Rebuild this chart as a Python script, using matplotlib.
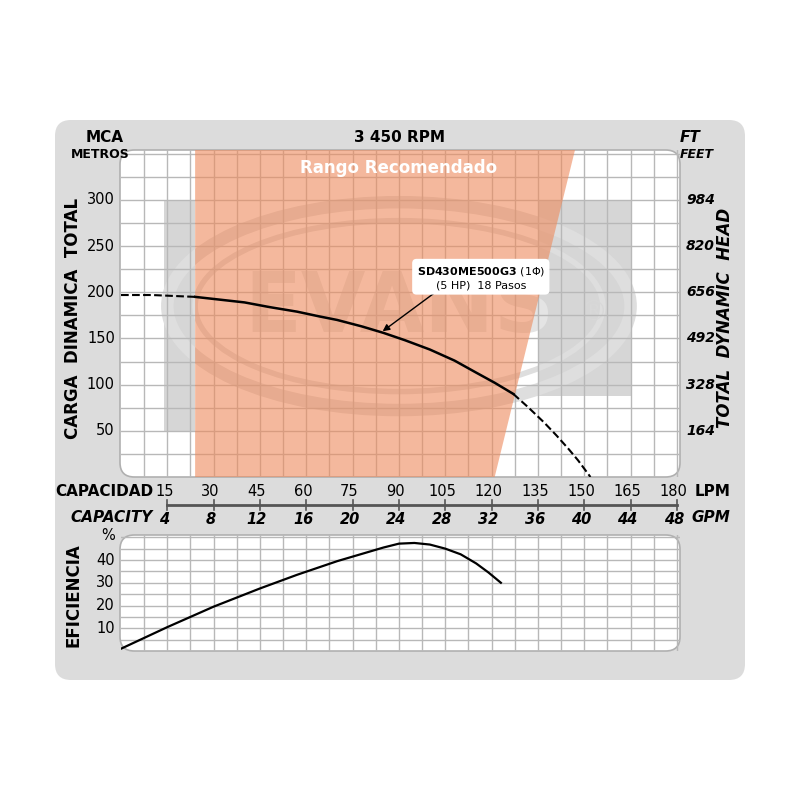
import numpy as np
import matplotlib.pyplot as plt
from matplotlib.patches import FancyBboxPatch, Ellipse, Polygon, Rectangle

# ---- data ----
lpm_ticks = [15, 30, 45, 60, 75, 90, 105, 120, 135, 150, 165, 180]
gpm_labels = ["4", "8", "12", "16", "20", "24", "28", "32", "36", "40", "44", "48"]
head_ticks = [50, 100, 150, 200, 250, 300]
ft_labels = ["164", "328", "492", "656", "820", "984"]
eff_ticks = [10, 20, 30, 40]

curve_dash_left_q = [0, 10, 24]
curve_dash_left_h = [197, 197, 195]
curve_q = [24, 32, 40, 48, 57, 64, 70, 78, 85, 92, 100, 108, 115, 121, 127]
curve_h = [195, 192, 189, 184, 179, 174, 170, 163, 156, 148, 138, 126, 113, 102, 90]
curve_dash_right_q = [127, 132, 137, 141, 145, 148, 150, 152]
curve_dash_right_h = [90, 75, 59, 45, 30, 18, 9, 0]

eff_q = [0, 15, 30, 45, 57, 70, 80, 85, 90, 95, 100, 105, 110, 115, 119, 123]
eff_v = [1, 10.5, 19.5, 27.5, 33.5, 39.5, 43.5, 45.5, 47.2, 47.5, 46.8, 45, 42.5, 38.5, 34.5, 30]

rango_x = [24, 147, 121, 24]   # recommended range polygon (LPM)
rango_y = [354, 354, 0, 0]

W = 800
fig = plt.figure(figsize=(8, 8), dpi=100)
fig.patch.set_facecolor("white")

def fx(px): return px / W
def fy(py): return 1 - py / W

# outer grey panel
fig.patches.append(FancyBboxPatch((fx(55), fy(680)), fx(690), 560 / W,
                                  boxstyle="round,pad=0,rounding_size=0.02",
                                  transform=fig.transFigure, fc="#dcdcdc", ec="none", zorder=-3))
# plot backgrounds
for (x0, y0, x1, y1) in [(120, 150, 680, 477), (120, 535, 680, 651)]:
    fig.patches.append(FancyBboxPatch((fx(x0), fy(y1)), fx(x1 - x0), (y1 - y0) / W,
                                      boxstyle="round,pad=0,rounding_size=0.018",
                                      transform=fig.transFigure, fc="white", ec="#b0b0b0",
                                      lw=1.2, zorder=-2))

grid_c = "#b8b8b8"

# ---- upper chart ----
ax = fig.add_axes([fx(121), fy(477), fx(559), 327 / W])
ax.set_xlim(0, 181)
ax.set_ylim(0, 354)
ax.patch.set_alpha(0)
for s in ax.spines.values():
    s.set_visible(False)
ax.set_xticks([])
ax.set_yticks([])
for x in np.arange(7.5, 181, 7.5):
    ax.axvline(x, color=grid_c, lw=1, zorder=1)
for y in np.arange(25, 354, 25):
    ax.axhline(y, color=grid_c, lw=1, zorder=1)

# watermark-like shapes
wm = "#dedede"
ax.add_patch(Rectangle((14, 50), 10, 250, fc="#d6d6d6", ec="none", zorder=0.8))
ax.add_patch(Rectangle((135.5, 88), 29.5, 212, fc="#d6d6d6", ec="none", zorder=0.8))
ax.add_patch(Ellipse((90, 185), 150, 225, fill=False, ec=wm, lw=9, zorder=0.9))
ax.add_patch(Ellipse((90, 185), 132, 185, fill=False, ec=wm, lw=4, zorder=0.9))
ax.text(90, 182, "EVANS", ha="center", va="center", fontsize=60, fontweight="bold",
        color="#e4e4e4", zorder=0.9)
ax.text(153, 178, "®", ha="center", va="center", fontsize=20, color="#d8d8d8", zorder=0.9)

ax.add_patch(Polygon(list(zip(rango_x, rango_y)), closed=True, fc="#ee8a5c", alpha=0.6,
                     ec="none", zorder=2))
ax.text(90, 334, "Rango Recomendado", ha="center", va="center", fontsize=12,
        fontweight="bold", color="white", zorder=3)

ax.plot(curve_dash_left_q, curve_dash_left_h, "k--", lw=1.5, zorder=4)
ax.plot(curve_q, curve_h, "k-", lw=1.8, zorder=4)
ax.plot(curve_dash_right_q, curve_dash_right_h, "k--", lw=1.5, zorder=4)

ax.annotate("", xy=(84, 156), xytext=(103, 203),
            arrowprops=dict(arrowstyle="-|>", color="k", lw=1), zorder=5)
ax.text(116.5, 216, r"$\bf{SD430ME500G3}$ (1Φ)" + "\n(5 HP)  18 Pasos", ha="center",
        va="center", fontsize=8, zorder=5, linespacing=1.3,
        bbox=dict(boxstyle="round,pad=0.4", fc="white", ec="none"))

for h, ft in zip(head_ticks, ft_labels):
    ax.text(-2, h, str(h), ha="right", va="center", fontsize=10.5)
    ax.text(183, h, ft, ha="left", va="center", fontsize=10, fontstyle="italic",
            fontweight="bold")

# ---- lower chart ----
ax2 = fig.add_axes([fx(121), fy(651), fx(559), 116 / W])
ax2.set_xlim(0, 181)
ax2.set_ylim(0, 51)
ax2.patch.set_alpha(0)
for s in ax2.spines.values():
    s.set_visible(False)
ax2.set_xticks([])
ax2.set_yticks([])
for x in np.arange(7.5, 181, 7.5):
    ax2.axvline(x, color=grid_c, lw=1, zorder=1)
for y in np.arange(5, 51, 5):
    ax2.axhline(y, color=grid_c, lw=1, zorder=1)
ax2.plot(eff_q, eff_v, "k-", lw=1.6, zorder=3)
for e in eff_ticks:
    ax2.text(-2, e, str(e), ha="right", va="center", fontsize=10.5)
ax2.text(-2, 51, "%", ha="right", va="center", fontsize=10.5)

# ---- capacity axis ----
axc = fig.add_axes([fx(121), fy(530), fx(559), 50 / W])
axc.set_xlim(0, 181)
axc.set_ylim(0, 1)
axc.axis("off")
axc.plot([15, 180], [0.5, 0.5], color="#555555", lw=2)
for q, g in zip(lpm_ticks, gpm_labels):
    axc.plot([q, q], [0.4, 0.6], color="#555555", lw=1.2)
    axc.text(q - 1, 0.78, str(q), ha="center", va="center", fontsize=10.5)
    axc.text(q - 1, 0.22, g, ha="center", va="center", fontsize=10.5, fontstyle="italic",
             fontweight="bold")

# ---- texts ----
fig.text(fx(153), fy(492), "CAPACIDAD", ha="right", va="center", fontsize=11, fontweight="bold")
fig.text(fx(153), fy(518), "CAPACITY", ha="right", va="center", fontsize=11,
         fontweight="bold", fontstyle="italic")
fig.text(fx(730), fy(492), "LPM", ha="right", va="center", fontsize=11, fontweight="bold")
fig.text(fx(730), fy(518), "GPM", ha="right", va="center", fontsize=11,
         fontweight="bold", fontstyle="italic")
fig.text(fx(400), fy(138), "3 450 RPM", ha="center", va="center", fontsize=11, fontweight="bold")
fig.text(fx(105), fy(138), "MCA", ha="center", va="center", fontsize=11, fontweight="bold")
fig.text(fx(100), fy(155), "METROS", ha="center", va="center", fontsize=9, fontweight="bold")
fig.text(fx(690), fy(138), "FT", ha="center", va="center", fontsize=11, fontweight="bold",
         fontstyle="italic")
fig.text(fx(697), fy(155), "FEET", ha="center", va="center", fontsize=9, fontweight="bold",
         fontstyle="italic")
fig.text(fx(73), fy(318), "CARGA  DINAMICA  TOTAL", ha="center", va="center", rotation=90,
         fontsize=12, fontweight="bold")
fig.text(fx(725), fy(318), "TOTAL  DYNAMIC  HEAD", ha="center", va="center", rotation=90,
         fontsize=12, fontweight="bold", fontstyle="italic")
fig.text(fx(73), fy(595), "EFICIENCIA", ha="center", va="center", rotation=90,
         fontsize=12, fontweight="bold")

fig.savefig("out.png", dpi=100)
